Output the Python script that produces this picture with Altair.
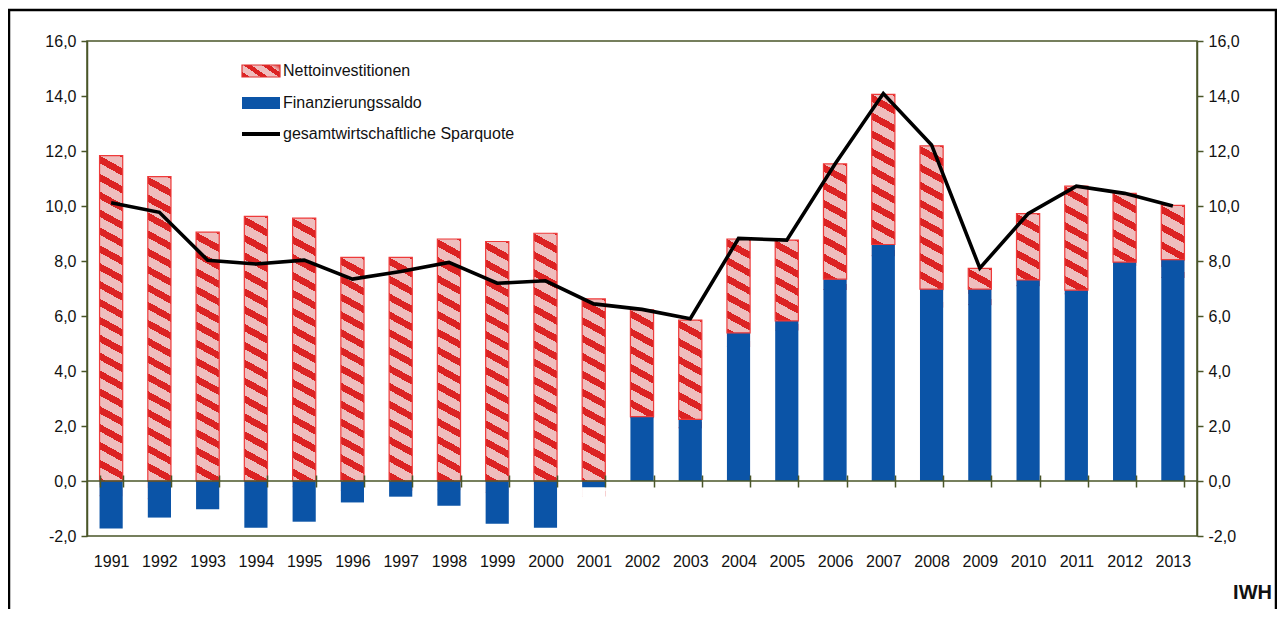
import math
import altair as alt
import pandas as pd

# ---------------- data ----------------
years = ["1991", "1992", "1993", "1994", "1995", "1996", "1997", "1998", "1999", "2000",
         "2001", "2002", "2003", "2004", "2005", "2006", "2007", "2008", "2009", "2010",
         "2011", "2012", "2013"]
netinv = [11.83, 11.07, 9.05, 9.62, 9.56, 8.13, 8.13, 8.80, 8.71, 9.01,
          6.62, 3.88, 3.61, 3.41, 2.94, 4.19, 5.46, 5.21, 0.75, 2.41,
          3.78, 2.50, 1.97]
saldo = [-1.73, -1.33, -1.03, -1.70, -1.48, -0.78, -0.57, -0.90, -1.55, -1.70,
         -0.23, 2.34, 2.24, 5.39, 5.82, 7.34, 8.60, 6.98, 6.98, 7.31,
         6.94, 7.96, 8.05]
sparquote = [10.12, 9.77, 8.03, 7.89, 8.03, 7.34, 7.62, 7.95, 7.19, 7.28,
             6.44, 6.24, 5.90, 8.82, 8.76, 11.53, 14.09, 12.22, 7.74, 9.72,
             10.72, 10.46, 10.00]
series_names = ["Nettoinvestitionen", "Finanzierungssaldo", "gesamtwirtschaftliche Sparquote"]
y_ticks = [-2, 0, 2, 4, 6, 8, 10, 12, 14, 16]

# ---------------- styling ----------------
FONT = "Liberation Sans"
OLIVE = "#4a5628"
BLUE = "#0b54a7"
RED = "#dc2323"
PINK = "#efbdbd"
RED_EDGE = "#ee3a3a"

W, H = 1110, 495
YMIN, YMAX = -2, 16
PAD_IN, PAD_OUT = 0.52, 0.26
px_per_unit = H / (YMAX - YMIN)
step = W / (len(years) - PAD_IN + 2 * PAD_OUT)
bandw = step * (1 - PAD_IN)

# hatch pattern built from stacked chunks, each filled with a diagonal gradient
P_UNITS = 0.65                     # vertical period of stripes (data units)
h_px = P_UNITS * px_per_unit       # chunk height in px
a = (h_px + 1) / h_px              # chunk drawn 1px taller (overlap)
slope = 0.55
m = slope * bandw / h_px
r = 0.42                           # share of red in one period


def col_at(phi):
    f = phi - math.floor(phi)
    return RED if f < r else PINK


def stripe_stops(lo, hi):
    """hard-edged stops for a phase running from lo to hi (in periods)."""
    bnds = sorted(b for k in range(-12, 13) for b in (k, k + r) if lo < b < hi)
    out = [(0.0, col_at(lo))]
    for b in bnds:
        t = round((b - lo) / (hi - lo), 5)
        out.append((t, col_at(b - 1e-6)))
        out.append((t, col_at(b + 1e-6)))
    out.append((1.0, col_at(hi)))
    return out


stops = [alt.GradientStop(offset=o, color=c) for o, c in stripe_stops(-m, a)]
lam = (a + m) / (m * m + a * a)
hatch = alt.LinearGradient(gradient="linear", stops=stops,
                           x1=1, y1=0, x2=1 - m * lam, y2=a * lam)

# legend swatch hatch (bbox-relative gradient, about three stripes)
kk = 0.45
n_str = 3.0
lam2 = (1 + kk) / (1 + kk * kk)
leg_stops = stripe_stops(0.0, n_str)
leg_stop_str = ", ".join("{offset: %s, color: '%s'}" % (o, c) for o, c in leg_stops)
legend_hatch_expr = ("{gradient: 'linear', x1: 0, y1: 1, x2: %.4f, y2: %.4f, stops: [%s]}"
                     % (lam2, 1 - kk * lam2, leg_stop_str))

# ---------------- tables ----------------
bars = pd.DataFrame({"year": years, "netinv": netinv, "saldo": saldo, "spar": sparquote})
bars["base"] = bars["saldo"].clip(lower=0)
bars["top"] = bars["base"] + bars["netinv"]
bars["series"] = series_names[1]
bars["mask"] = -(P_UNITS + 0.08)
bars["zero"] = 0.0

rows = []
for yv, base, top in zip(bars["year"], bars["base"], bars["top"]):
    k = 0
    while top - P_UNITS * k > base + 1e-9:
        rows.append({"year": yv, "c_top": top - P_UNITS * k, "c_bot": top - P_UNITS * (k + 1)})
        k += 1
chunks = pd.DataFrame(rows)
one = pd.DataFrame({"zero": [0.0]})

xscale = alt.Scale(paddingInner=PAD_IN, paddingOuter=PAD_OUT)
yscale = alt.Scale(domain=[YMIN, YMAX], nice=False, zero=False)
label_expr = "replace(replace(format(datum.value, '.1f'), '.', ','), '\u2212', '-')"

x_axis = alt.Axis(title=None, orient="bottom", offset=-61, domain=False, ticks=True,
                  tickBand="extent", tickSize=12, tickColor=OLIVE, tickWidth=1.5,
                  labelPadding=66, labelAngle=0, labelFontSize=16, labelFont=FONT,
                  labelColor="#111111", zindex=1)
y_left = alt.Axis(title=None, orient="left", values=y_ticks, labelExpr=label_expr,
                  tickSize=6, labelPadding=5, labelFontSize=16, labelFont=FONT,
                  labelColor="#111111", grid=False)
y_right = alt.Axis(title=None, orient="right", values=y_ticks, labelExpr=label_expr,
                   tickSize=6, labelPadding=5, labelFontSize=16, labelFont=FONT,
                   labelColor="#111111", grid=False)

X = alt.X("year:N", scale=xscale, sort=years)

hatch_layer = alt.Chart(chunks).mark_bar(fill=hatch, y2Offset=1).encode(
    x=alt.X("year:N", scale=xscale, sort=years, axis=x_axis),
    y=alt.Y("c_top:Q", scale=yscale, axis=y_left),
    y2="c_bot:Q",
)

mask_layer = alt.Chart(bars).mark_bar(color="white").encode(
    x=X, y=alt.Y("zero:Q", scale=yscale, axis=None), y2="mask:Q")

blue_layer = alt.Chart(bars).mark_bar().encode(
    x=X,
    y=alt.Y("saldo:Q", scale=yscale, axis=None),
    y2="zero:Q",
    color=alt.Color(
        "series:N",
        scale=alt.Scale(domain=series_names,
                        range=[{"expr": legend_hatch_expr}, BLUE, "#000000"]),
        legend=alt.Legend(
            title=None, orient="none", legendX=166, legendY=22, padding=0,
            symbolSize=196,
            symbolType={"expr": "datum.value == 'gesamtwirtschaftliche Sparquote' ? "
                                "'M-2.714,-0.28H2.714V0.28H-2.714Z' : "
                                "'M-2.714,-0.86H2.714V0.86H-2.714Z'"},
            symbolStrokeColor={"expr": "datum.value == 'Nettoinvestitionen' ? '#e03030' : 'transparent'"},
            symbolStrokeWidth=1.2, symbolOpacity=1,
            labelOffset=14, rowPadding=14, labelFontSize=16, labelFont=FONT,
            labelColor="#111111", labelLimit=0,
        ),
    ),
)

outline_layer = alt.Chart(bars).mark_bar(fillOpacity=0, stroke=RED_EDGE, strokeWidth=1.2).encode(
    x=X, y=alt.Y("top:Q", scale=yscale, axis=None), y2="base:Q")

zero_layer = alt.Chart(one).mark_rule(color=OLIVE, strokeWidth=1.5).encode(
    y=alt.Y("zero:Q", scale=yscale, axis=None))

line_layer = alt.Chart(bars).mark_line(color="black", strokeWidth=3.6).encode(
    x=X, y=alt.Y("spar:Q", scale=yscale, axis=y_right))

frame_layer = alt.Chart(one).mark_rect(fillOpacity=0, stroke="black", strokeWidth=2.5).encode(
    x=alt.value(-78), x2=alt.value(1189), y=alt.value(-31), y2=alt.value(600))

iwh_layer = alt.Chart(one).mark_text(text="IWH", font=FONT, fontSize=20, fontWeight="bold",
                                     align="right", baseline="alphabetic", color="#111111").encode(
    x=alt.value(1185), y=alt.value(558))

chart = alt.layer(
    hatch_layer, mask_layer, blue_layer, outline_layer, zero_layer, line_layer,
    frame_layer, iwh_layer,
).resolve_scale(y="shared").resolve_axis(y="independent").properties(
    width=W, height=H,
    padding={"left": 79, "top": 33, "right": 80, "bottom": 73},
    autosize=alt.AutoSizeParams(type="none"),
).configure_view(stroke=OLIVE, strokeWidth=1.5).configure_axis(
    domainColor=OLIVE, domainWidth=1.5, tickColor=OLIVE, tickWidth=1.5, grid=False
)

chart.save("out.html", embed_options={"renderer": "svg", "actions": False})
